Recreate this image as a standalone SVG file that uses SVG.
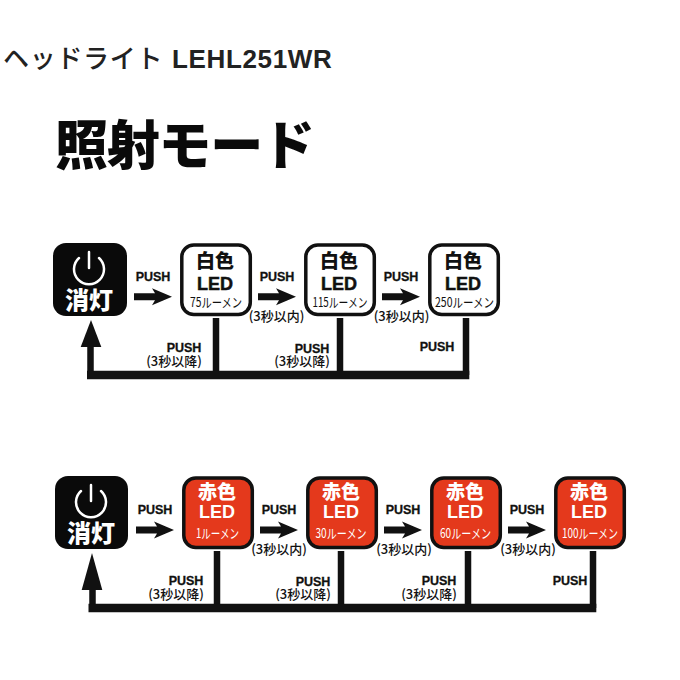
<svg xmlns="http://www.w3.org/2000/svg" width="680" height="680" viewBox="0 0 680 680">
<defs>
<style>
text{font-family:"Noto Sans CJK JP","Liberation Sans",sans-serif;text-anchor:middle;fill:#111}
.push{font-family:"Liberation Sans",sans-serif;font-weight:700;font-size:12.5px;stroke:#111;stroke-width:.3px}
.note{font-size:13px;font-weight:500}
.head{font-size:19px;font-weight:900}
.led{font-family:"Liberation Sans",sans-serif;font-size:18px;font-weight:700;stroke-width:.5px}
.lm{font-size:13px;font-weight:400}
.w{fill:#fff}
.off{font-size:24px;font-weight:900;fill:#fff}
.wb{fill:#fff;stroke:#111;stroke-width:3.5px}
.rb{fill:#e4391c;stroke:#111;stroke-width:3.5px}
.v{fill:none;stroke:#111;stroke-width:6.500px}
.h{fill:none;stroke:#111;stroke-width:8.500px}
.pw{fill:none;stroke:#fff;stroke-width:2.500px;stroke-linecap:round}
</style>
<path id="arr" fill="#111" d="M0-3.500H21L18-8.500 38 0 18 8.500 21 3.500H0Z"/>
</defs>
<text x="3" y="68" style="text-anchor:start;font-size:26px;font-weight:500;fill:#222;letter-spacing:.7px">ヘッドライト <tspan x="172" style="font-family:'Liberation Sans',sans-serif;font-weight:700;letter-spacing:.65px">LEHL251WR</tspan></text>
<text x="55" y="165" style="text-anchor:start;font-size:53px;font-weight:900;fill:#0a0a0a" textLength="260">照射モード</text>

<g id="connectors">
<path class="v" d="M90.500 345V375M216 318V375M340 318V375M466 318V375"/>
<path class="h" d="M87 375H469.300"/>
<path fill="#111" d="M80.700 347 91 320 101.300 347Z"/>
<use href="#arr" x="134" y="296.700"/>
<use href="#arr" x="258" y="296.700"/>
<use href="#arr" x="382" y="296.700"/>
<path class="v" d="M92.500 588V608M217 551V608M341 551V608M468 551V608M593 551V608"/>
<path class="h" d="M88.500 608H596.300"/>
<path fill="#111" d="M81.700 590 92 553 102.300 590Z"/>
<use href="#arr" x="136" y="530"/>
<use href="#arr" x="260" y="530"/>
<use href="#arr" x="384" y="530"/>
<use href="#arr" x="508" y="530"/>
<text class="push" x="153" y="281">PUSH</text>
<text class="push" x="277" y="281">PUSH</text>
<text class="push" x="401" y="281">PUSH</text>
<text class="note" x="276.500" y="321">(3秒以内)</text>
<text class="note" x="401.500" y="321">(3秒以内)</text>
<text class="push" x="184" y="352">PUSH</text>
<text class="note" x="174" y="366">(3秒以降)</text>
<text class="push" x="312" y="353">PUSH</text>
<text class="note" x="302" y="366">(3秒以降)</text>
<text class="push" x="437" y="351">PUSH</text>
<text class="push" x="155" y="514">PUSH</text>
<text class="push" x="279" y="514">PUSH</text>
<text class="push" x="403" y="514">PUSH</text>
<text class="push" x="527" y="514">PUSH</text>
<text class="note" x="279" y="554">(3秒以内)</text>
<text class="note" x="404" y="554">(3秒以内)</text>
<text class="note" x="528" y="554">(3秒以内)</text>
<text class="push" x="186" y="585">PUSH</text>
<text class="note" x="176" y="599">(3秒以降)</text>
<text class="push" x="313" y="586">PUSH</text>
<text class="note" x="303" y="599">(3秒以降)</text>
<text class="push" x="439" y="585">PUSH</text>
<text class="note" x="429" y="599">(3秒以降)</text>
<text class="push" x="570" y="585">PUSH</text>
</g>

<g id="off1">
<rect x="53" y="243" width="74" height="73" rx="13" fill="#0a0a0a"/>
<path class="pw" d="M79 258A15 15 0 1 0 99 258M89 252V268"/>
<text class="off" x="89" y="309">消灯</text>
</g>
<g id="w75">
<rect class="wb" x="181.800" y="245" width="68.500" height="69.500" rx="12"/>
<text class="head" x="215" y="268">白色</text>
<text class="led" x="215" y="290" stroke="#111">LED</text>
<text class="lm" x="216" y="307" textLength="52" lengthAdjust="spacingAndGlyphs">75ルーメン</text>
</g>
<g id="w115">
<rect class="wb" x="305.800" y="245" width="68.500" height="69.500" rx="12"/>
<text class="head" x="339" y="268">白色</text>
<text class="led" x="339" y="290" stroke="#111">LED</text>
<text class="lm" x="340" y="307" textLength="55" lengthAdjust="spacingAndGlyphs">115ルーメン</text>
</g>
<g id="w250">
<rect class="wb" x="429.800" y="245" width="68.500" height="69.500" rx="12"/>
<text class="head" x="463" y="268">白色</text>
<text class="led" x="463" y="290" stroke="#111">LED</text>
<text class="lm" x="464.500" y="307" textLength="59" lengthAdjust="spacingAndGlyphs">250ルーメン</text>
</g>

<g id="off2">
<rect x="55" y="476" width="73" height="73" rx="13" fill="#0a0a0a"/>
<path class="pw" d="M81 491A15 15 0 1 0 101 491M91 485V501"/>
<text class="off" x="91" y="542">消灯</text>
</g>
<g id="r1">
<rect class="rb" x="183.800" y="478" width="68.500" height="69.500" rx="12"/>
<text class="head w" x="217" y="499">赤色</text>
<text class="led w" x="217" y="518">LED</text>
<text class="lm w" x="217.500" y="538" textLength="43" lengthAdjust="spacingAndGlyphs">1ルーメン</text>
</g>
<g id="r30">
<rect class="rb" x="307.800" y="478" width="68.500" height="69.500" rx="12"/>
<text class="head w" x="341" y="499">赤色</text>
<text class="led w" x="341" y="518">LED</text>
<text class="lm w" x="341" y="538" textLength="51" lengthAdjust="spacingAndGlyphs">30ルーメン</text>
</g>
<g id="r60">
<rect class="rb" x="431.800" y="478" width="68.500" height="69.500" rx="12"/>
<text class="head w" x="465" y="499">赤色</text>
<text class="led w" x="465" y="518">LED</text>
<text class="lm w" x="465.500" y="538" textLength="51" lengthAdjust="spacingAndGlyphs">60ルーメン</text>
</g>
<g id="r100">
<rect class="rb" x="555.800" y="478" width="68.500" height="69.500" rx="12"/>
<text class="head w" x="589" y="499">赤色</text>
<text class="led w" x="589" y="518">LED</text>
<text class="lm w" x="590" y="538" textLength="56" lengthAdjust="spacingAndGlyphs">100ルーメン</text>
</g>
</svg>
